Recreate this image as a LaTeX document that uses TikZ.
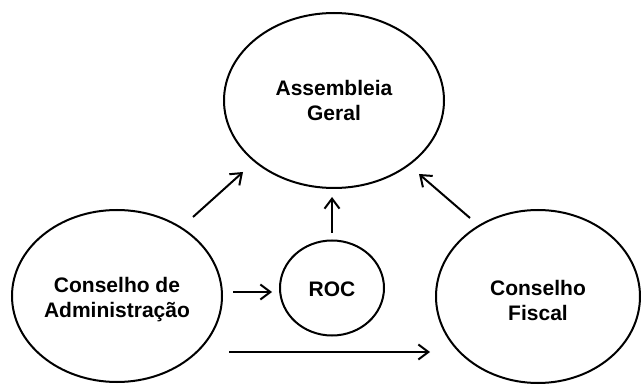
\documentclass[tikz,border=0pt]{standalone}
\usepackage{fontspec}
\setmainfont{Liberation Sans}
\usetikzlibrary{shapes.geometric,arrows.meta}
\begin{document}
\begin{tikzpicture}[x=1pt,y=-1pt,
  org/.style={draw=black, line width=2pt, ellipse, inner sep=0pt},
  lbl/.style={align=center, inner sep=0pt, font=\fontsize{21}{25}\selectfont\bfseries},
  arr/.style={line width=2pt, -{Straight Barb[length=10pt,width=15pt,line width=2pt]}}]
\useasboundingbox (0,0) rectangle (641,385);
\node[org, minimum width=220pt, minimum height=175pt] (ag) at (334,100.5) {};
\node[org, minimum width=210pt, minimum height=172pt] (ca) at (117,296) {};
\node[org, minimum width=104pt, minimum height=95pt] (roc) at (332,288) {};
\node[org, minimum width=204pt, minimum height=173pt] (cf) at (538,296.5) {};
\node[lbl] (agt) at (ag) {Assembleia\\Geral};
\node[lbl] (cat) at ([yshift=-3.5pt]ca.center) {Conselho de\\Administração};
\node[lbl] (roct) at ([yshift=-1.5pt]roc.center) {ROC};
\node[lbl] (cft) at ([yshift=-3.5pt]cf.center) {Conselho\\Fiscal};
\coordinate (a1s) at (193,217); \coordinate (a1e) at (243,172);
\coordinate (a2s) at (332,233); \coordinate (a2e) at (332,197);
\coordinate (a3s) at (470,218); \coordinate (a3e) at (419,174);
\coordinate (a4s) at (233,292); \coordinate (a4e) at (272,292);
\coordinate (a5s) at (229,352); \coordinate (a5e) at (430,352);
\draw[arr] (a1s) -- (a1e);
\draw[arr] (a2s) -- (a2e);
\draw[arr] (a3s) -- (a3e);
\draw[arr] (a4s) -- (a4e);
\draw[arr] (a5s) -- (a5e);
\end{tikzpicture}
\end{document}
